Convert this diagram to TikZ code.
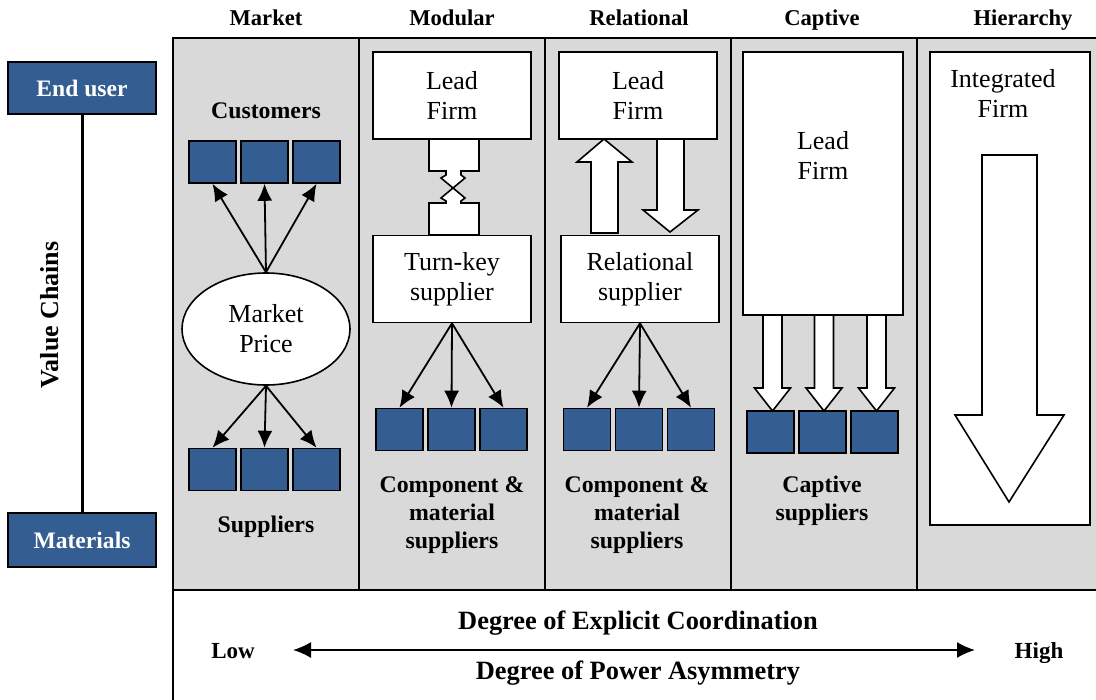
\documentclass[tikz,border=0pt]{standalone}
\usepackage{fontspec}
\setmainfont{Liberation Serif}
\usepackage{xcolor}
\usetikzlibrary{shapes.geometric,positioning,arrows.meta}
\definecolor{panelgray}{RGB}{217,217,217}
\definecolor{boxblue}{RGB}{52,94,145}

\begin{document}
\begin{tikzpicture}[x=0.5pt,y=-0.5pt,
    sq/.style={draw, fill=boxblue, line width=0.8pt, minimum width=23.5pt, minimum height=21pt, inner sep=0pt},
    firm/.style={draw, fill=white, line width=0.8pt, minimum width=79pt, minimum height=43.5pt, align=center, inner sep=0pt, font=\fontsize{13}{15}\selectfont},
    plain/.style={align=center, font=\fontsize{13}{15}\selectfont},
    lbl/.style={align=center, font=\fontsize{11.9}{14}\selectfont\bfseries},
    head/.style={anchor=base, font=\fontsize{11.3}{13}\selectfont\bfseries},
    chain/.style={draw, fill=boxblue, line width=0.8pt, minimum width=74pt, text=white, font=\fontsize{11.8}{14}\selectfont\bfseries},
    arr/.style={line width=0.9pt, -{Latex[length=8.5pt,width=7.5pt]}},
    blockarr/.style={draw, fill=white, line width=0.8pt, line join=miter}]
    \useasboundingbox (0,0) rectangle (1096,700);

    % Panel and columns
    \fill[panelgray] (173,38) rectangle (1110,590);
    \draw[line width=1pt] (173,38) rectangle (1110,590);
    \foreach \cx in {359,545,731,917}
        \draw[line width=1pt] (\cx,38) -- (\cx,590);
    \draw[line width=1pt] (173,590) rectangle (1110,710);

    % Column headings
    \node[head] (hmarket) at (266,26) {Market};
    \node[head] (hmodular) at (452,26) {Modular};
    \node[head] (hrelational) at (639,26) {Relational};
    \node[head] (hcaptive) at (822,26) {Captive};
    \node[head] (hhierarchy) at (1023,26) {Hierarchy};

    % Value chain axis
    \node[chain, minimum height=26pt] (enduser) at (82,88) {End user};
    \node[chain, minimum height=27pt] (materials) at (82,540) {Materials};
    \draw[line width=1.5pt] (enduser.south) -- (materials.north);
    \node[rotate=90, font=\fontsize{13}{15}\selectfont\bfseries] (valuechains) at (50,315) {Value Chains};

    % Market
    \node[lbl] (customers) at (266,111) {Customers};
    \node[draw, fill=white, line width=0.8pt, ellipse, minimum width=84pt, minimum height=56pt, inner sep=0pt, plain] (mprice) at (266,329) {Market\\Price};
    \foreach \i/\xx in {1/212.5,2/264.5,3/316.5} {
        \node[sq] (mtop\i) at (\xx,162) {};
        \node[sq] (mbot\i) at (\xx,469.5) {};
        \draw[arr] (mprice.north) -- (mtop\i.south);
        \draw[arr] (mprice.south) -- (mbot\i.north);
    }
    \node[lbl] (suppliers) at (266,527) {Suppliers};

    % Modular
    \node[firm] (modlead) at (452,95.5) {Lead\\Firm};
    \node[firm] (turnkey) at (452,279) {Turn-key\\supplier};
    \draw[blockarr] (429,139) -- (479,139) -- (479,171) -- (461,171) -- (461,175) -- (465,178) -- (453,188)
        -- (465,198) -- (461,201) -- (461,203) -- (479,203) -- (479,235) -- (429,235) -- (429,203)
        -- (446,203) -- (446,201) -- (441,198) -- (453,188) -- (441,178) -- (446,175) -- (446,171)
        -- (429,171) -- cycle;
    \foreach \i/\xx in {1/399.5,2/451.5,3/503.5} {
        \node[sq] (modsq\i) at (\xx,429.5) {};
        \draw[arr] (turnkey.south) -- (modsq\i.north);
    }
    \node[lbl] (modlbl) at (452,515) {Component \&\\material\\suppliers};

    % Relational
    \node[firm] (rellead) at (638,95.5) {Lead\\Firm};
    \node[firm] (relsup) at (640,279) {Relational\\supplier};
    \draw[blockarr] (591,233) -- (591,162) -- (577,162) -- (604,139) -- (632,162) -- (618,162) -- (618,233) -- cycle;
    \draw[blockarr] (657,139) -- (684,139) -- (684,210) -- (698,210) -- (670,232) -- (643,210) -- (657,210) -- cycle;
    \foreach \i/\xx in {1/587,2/639,3/691} {
        \node[sq] (relsq\i) at (\xx,429.5) {};
        \draw[arr] (relsup.south) -- (relsq\i.north);
    }
    \node[lbl] (rellbl) at (637,515) {Component \&\\material\\suppliers};

    % Captive
    \draw[fill=white, line width=0.8pt] (743,52) rectangle (903,315);
    \node[plain] (caplead) at (823,155) {Lead\\Firm};
    \foreach \i/\xx in {1/770.5,2/822.5,3/874.5}
        \node[sq] (capsq\i) at (\xx,432) {};
    \foreach \cx in {772.5,824,876.5}
        \draw[blockarr] (\cx-9.5,315) -- (\cx-9.5,388) -- (\cx-18,388) -- (\cx,411) -- (\cx+18,388) -- (\cx+9.5,388) -- (\cx+9.5,315) -- cycle;
    \node[lbl] (caplbl) at (822,501) {Captive\\suppliers};

    % Hierarchy
    \draw[fill=white, line width=0.8pt] (930,52) rectangle (1090,525);
    \node[plain] (integrated) at (1003,93) {Integrated\\Firm};
    \draw[blockarr] (982,155) -- (1037,155) -- (1037,415) -- (1064,415) -- (1009,502) -- (955,415) -- (982,415) -- cycle;

    % Coordination axis
    \node[font=\fontsize{13.2}{15}\selectfont\bfseries] (coord) at (638,623) {Degree of Explicit Coordination};
    \node[font=\fontsize{13.2}{15}\selectfont\bfseries] (power) at (638,673) {Degree of Power Asymmetry};
    \node[font=\fontsize{11.5}{14}\selectfont\bfseries] (low) at (233,651) {Low};
    \node[font=\fontsize{11.5}{14}\selectfont\bfseries] (high) at (1039,653) {High};
    \coordinate (axleft) at (293,650);
    \coordinate (axright) at (975,650);
    \draw[line width=0.9pt, {Latex[length=9pt,width=8pt]}-{Latex[length=9pt,width=8pt]}] (axleft) -- (axright);
\end{tikzpicture}
\end{document}
